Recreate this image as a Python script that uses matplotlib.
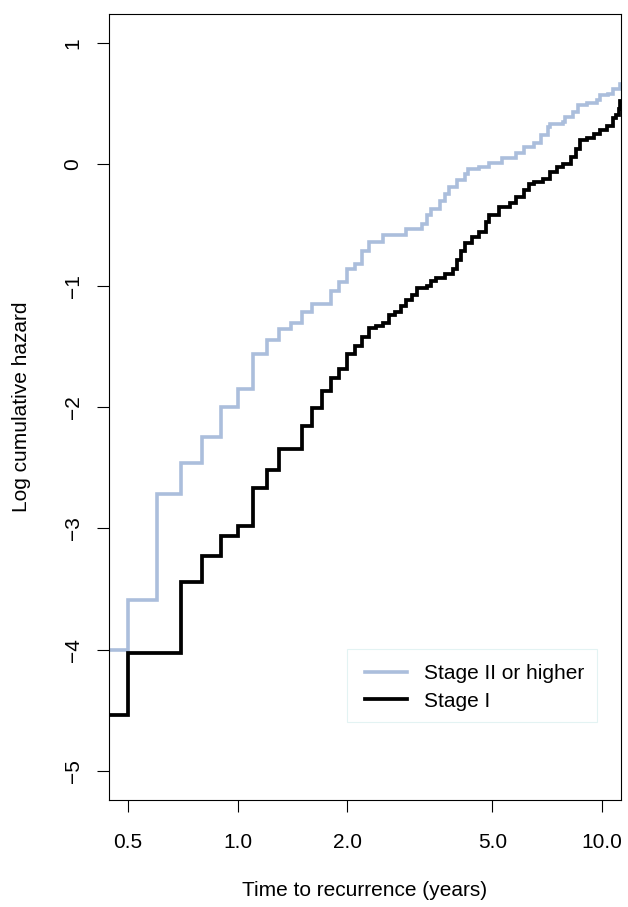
import numpy as np
import matplotlib
matplotlib.use("Agg")
import matplotlib.pyplot as plt
from matplotlib.patches import Rectangle

# Log cumulative hazard, step functions (time in years)
t_stage2 = [0.4, 0.5, 0.6, 0.7, 0.8, 0.9, 1.0, 1.1, 1.2, 1.3,
            1.4, 1.5, 1.6, 1.8, 1.9, 2.0, 2.1, 2.2, 2.3, 2.5,
            2.9, 3.2, 3.3, 3.4, 3.6, 3.7, 3.8, 4.0, 4.2, 4.3,
            4.6, 4.9, 5.3, 5.8, 6.1, 6.5, 6.8, 7.1, 7.2, 7.8,
            7.9, 8.3, 8.6, 9.1, 9.7, 9.9, 10.4, 10.7, 11.2, 12.0]
h_stage2 = [-4.00, -3.59, -2.72, -2.46, -2.25, -2.00, -1.85, -1.56, -1.45, -1.36,
            -1.31, -1.22, -1.15, -1.04, -0.97, -0.86, -0.82, -0.71, -0.64, -0.58,
            -0.53, -0.49, -0.42, -0.37, -0.30, -0.24, -0.19, -0.13, -0.08, -0.04,
            -0.02, 0.01, 0.05, 0.09, 0.14, 0.18, 0.24, 0.31, 0.335, 0.35,
            0.39, 0.43, 0.49, 0.51, 0.53, 0.57, 0.58, 0.62, 0.66, 0.66]

t_stage1 = [0.4, 0.5, 0.7, 0.8, 0.9, 1.0, 1.1, 1.2, 1.3, 1.5,
            1.6, 1.7, 1.8, 1.9, 2.0, 2.1, 2.2, 2.3, 2.4, 2.5,
            2.6, 2.7, 2.8, 2.9, 3.0, 3.1, 3.3, 3.4, 3.5, 3.7,
            3.9, 4.0, 4.1, 4.2, 4.4, 4.6, 4.8, 4.9, 5.2, 5.6,
            5.8, 6.1, 6.3, 6.5, 6.9, 7.2, 7.5, 7.8, 8.2, 8.5,
            8.7, 9.1, 9.5, 9.9, 10.3, 10.7, 10.9, 11.1, 11.2, 12.0]
h_stage1 = [-4.54, -4.03, -3.44, -3.23, -3.06, -2.98, -2.67, -2.52, -2.35, -2.16,
            -2.01, -1.87, -1.76, -1.69, -1.56, -1.50, -1.42, -1.35, -1.33, -1.31,
            -1.24, -1.215, -1.17, -1.12, -1.08, -1.02, -1.00, -0.96, -0.94, -0.90,
            -0.86, -0.79, -0.71, -0.65, -0.60, -0.56, -0.475, -0.42, -0.35, -0.32,
            -0.27, -0.21, -0.16, -0.146, -0.12, -0.063, -0.022, 0.005, 0.06, 0.13,
            0.20, 0.22, 0.25, 0.28, 0.32, 0.38, 0.41, 0.46, 0.52, 0.52]

x_ticks = [0.5, 1.0, 2.0, 5.0, 10.0]
x_ticklabels = ["0.5", "1.0", "2.0", "5.0", "10.0"]
y_ticks = [-5, -4, -3, -2, -1, 0, 1]

labels = ["Stage II or higher", "Stage I"]
colors = ["#abbedc", "black"]

plt.rcParams["font.family"] = ["Liberation Sans", "DejaVu Sans"]
FS = 15

W, H = 628, 907
fig = plt.figure(figsize=(W / 100, H / 100), dpi=100)
ax = fig.add_axes([109 / W, 1 - 800 / H, (621 - 109) / W, (800 - 14) / H])

ax.plot(t_stage2, h_stage2, drawstyle="steps-post", color=colors[0], lw=2.6,
        label=labels[0], solid_joinstyle="miter")
ax.plot(t_stage1, h_stage1, drawstyle="steps-post", color=colors[1], lw=2.7,
        label=labels[1], solid_joinstyle="miter")

# R style 4% padding, x on log scale
ax.set_xscale("log")
span = np.log10(10 / 0.5)
ax.set_xlim(10 ** (np.log10(0.5) - 0.04 * span), 10 ** (1 + 0.04 * span))
ax.set_ylim(-5 - 0.24, 1 + 0.24)

ax.set_xticks(x_ticks)
ax.set_xticklabels(x_ticklabels)
ax.xaxis.set_minor_locator(matplotlib.ticker.NullLocator())
ax.set_yticks(y_ticks)

ax.tick_params(axis="x", length=8.6, width=0.8, pad=15, labelsize=FS)
ax.tick_params(axis="y", length=8.6, width=0.8, pad=10.4, labelsize=FS,
               labelrotation=90)
for lab in ax.get_yticklabels():
    lab.set_va("center")
for s in ax.spines.values():
    s.set_linewidth(0.8)

fig.text(365 / W, 1 - 896 / H, "Time to recurrence (years)", ha="center",
         va="baseline", fontsize=FS)
fig.text(22 / W, 1 - 407 / H, "Log cumulative hazard", ha="center",
         va="center", rotation=90, fontsize=FS)

# legend box (faint border) + entries
ax.add_patch(Rectangle(((347 - 109) / 512, (800 - 722) / 786), 250 / 512, 73 / 786,
                       transform=ax.transAxes, fill=False, ec="#e3f3f3", lw=0.8))
ax.legend(loc="upper left", bbox_to_anchor=((365 - 109) / 512, (800 - 664) / 786),
          frameon=False, borderpad=0, borderaxespad=0, handlelength=2.0,
          handletextpad=0.85, labelspacing=0.42, fontsize=FS)

fig.savefig("out.png", dpi=100)
